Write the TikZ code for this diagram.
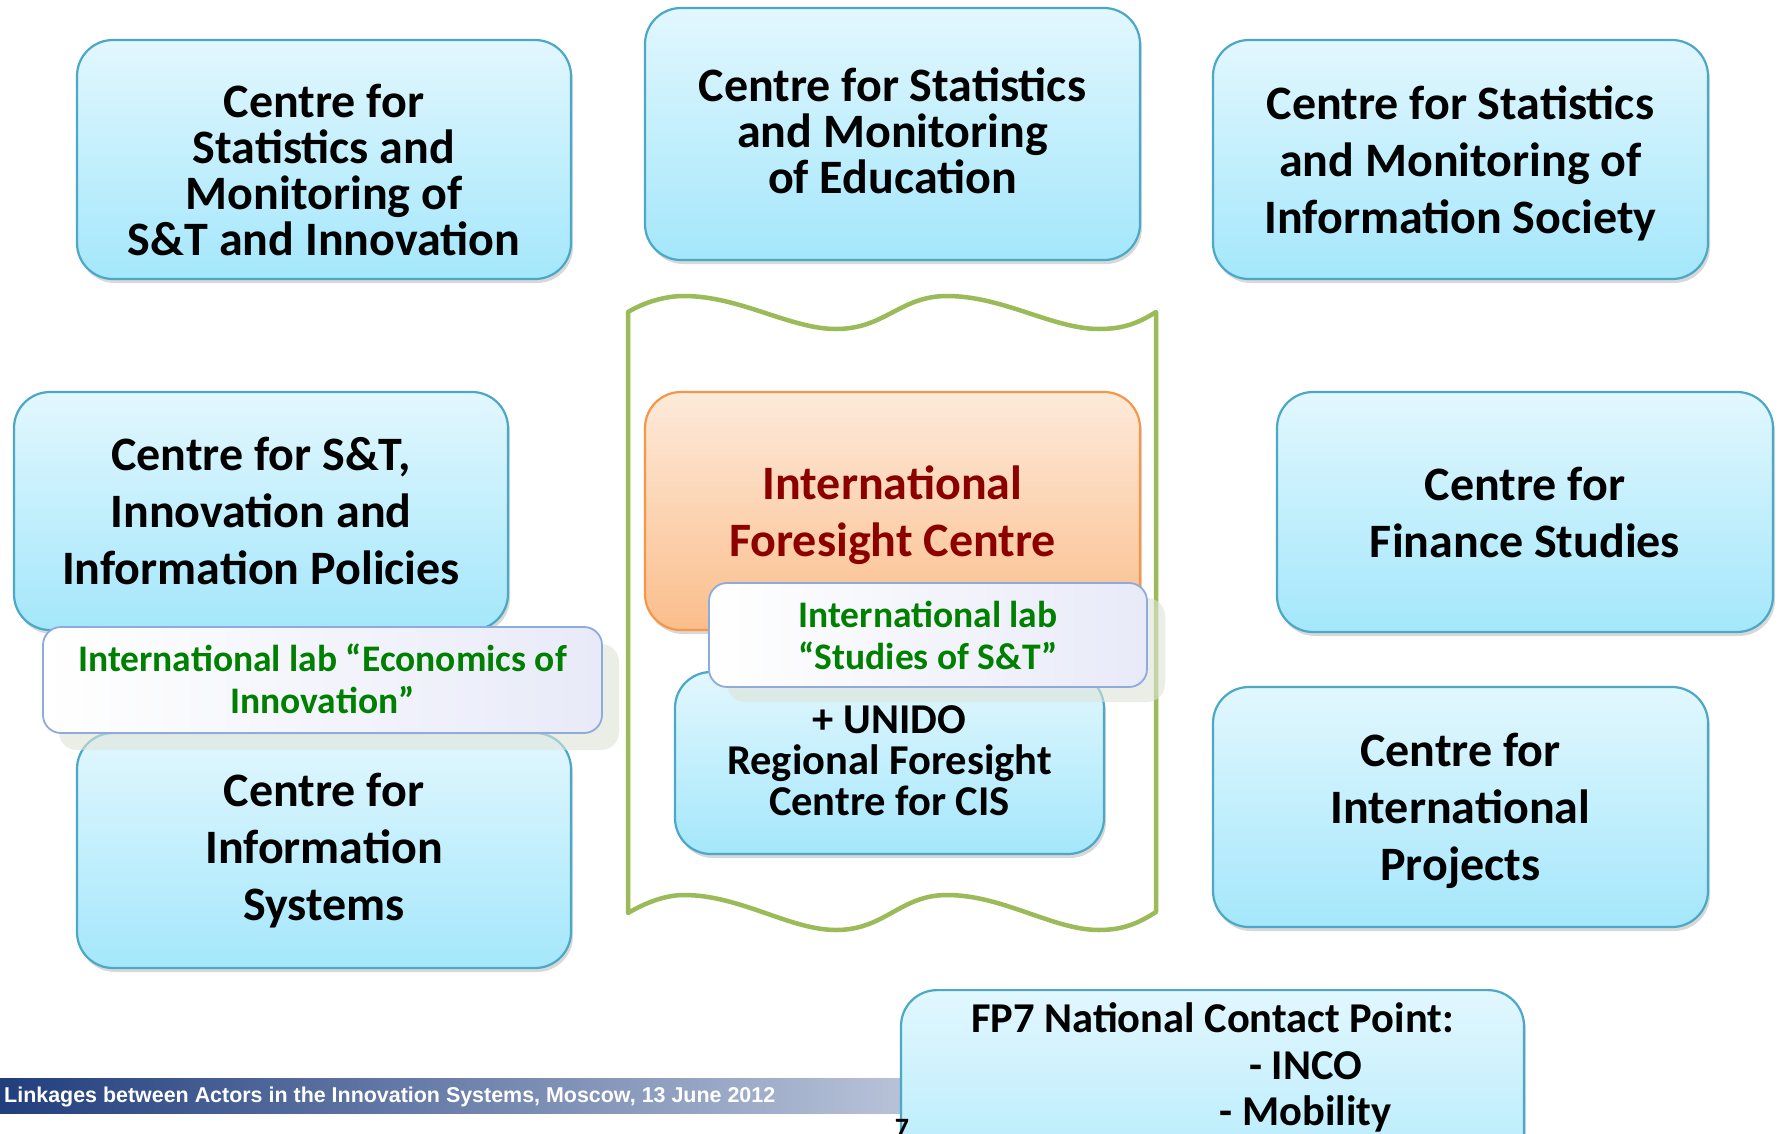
\documentclass[tikz,border=0pt]{standalone}
\usepackage{fontspec}
\setmainfont{Carlito}
\newfontfamily\footfont{Liberation Sans}
\usetikzlibrary{shadows}
\newcommand\nolsk{\lineskiplimit-100pt\relax}
\definecolor{bborder}{RGB}{75,168,198}
\definecolor{btop}{RGB}{226,247,254}
\definecolor{bbot}{RGB}{164,231,251}
\definecolor{otop}{RGB}{253,234,218}
\definecolor{obot}{RGB}{251,190,140}
\definecolor{oborder}{RGB}{247,150,70}
\definecolor{lborder}{RGB}{143,170,220}
\definecolor{lright}{RGB}{232,234,248}
\definecolor{ltext}{RGB}{0,128,0}
\definecolor{ifcred}{RGB}{140,0,0}
\definecolor{wavegreen}{RGB}{155,187,89}
\definecolor{footL}{RGB}{33,62,125}
\definecolor{footR}{RGB}{200,209,226}
\definecolor{labshadow}{RGB}{222,228,215}
\tikzset{
  centrebox/.style={draw=bborder, line width=2.2pt, rounded corners=36pt,
    top color=btop, bottom color=bbot,
    drop shadow={shadow xshift=2pt, shadow yshift=-4pt, opacity=0.3},
    inner sep=0pt},
  ifcbox/.style={centrebox, draw=oborder, top color=otop, bottom color=obot},
  boxtext/.style={align=center, inner sep=0pt,
    font={\bfseries\fontsize{48}{57}\selectfont\nolsk}},
  tighttext/.style={boxtext, font={\bfseries\fontsize{48}{46}\selectfont\nolsk}},
  labbox/.style={draw=lborder, line width=1.8pt, rounded corners=18pt,
    left color=white, right color=lright, inner sep=0pt},
  labtext/.style={align=center, inner sep=0pt, text=ltext,
    font={\bfseries\fontsize{37.5}{42}\selectfont\nolsk}},
  labshade/.style={fill=labshadow, opacity=0.6, rounded corners=18pt},
  wavestyle/.style={draw=wavegreen, line width=4.5pt, fill=white, line join=round},
}
\begin{document}
\begin{tikzpicture}[x=1pt,y=-1pt]
\useasboundingbox (0,0) rectangle (1781,1133);
\clip (0,0) rectangle (1781,1133);
\fill[white] (0,0) rectangle (1781,1133);

% footer bar
\shade[left color=footL, right color=footR] (0,1078) rectangle (1000,1113);
\node[anchor=west, text=white, inner sep=0pt, font={\footfont\bfseries\fontsize{20}{24}\selectfont}] (foot) at (4,1097)
  {\resizebox{771pt}{!}{Linkages between Actors in the Innovation Systems, Moscow, 13 June 2012}};

% top row
\node[centrebox, minimum width=494pt, minimum height=239pt] (stinno) at (324,159.5) {};
\node[tighttext] (stinnotext) at (324,169.5)
  {Centre for\\Statistics and\\Monitoring of\\S\&T and Innovation};
\node[centrebox, minimum width=495pt, minimum height=252pt] (edu) at (892.5,134) {};
\node[tighttext] (edutext) at (892.5,131)
  {Centre for Statistics\\and Monitoring\\of Education};
\node[centrebox, minimum width=495pt, minimum height=239pt] (infsoc) at (1460.5,159.5) {};
\node[boxtext] (infsoctext) at (1460.5,163)
  {Centre for Statistics\\and Monitoring of\\Information Society};

% green wave
\draw[wavestyle] (628,312) .. controls (645,302) and (665,296) .. (684,296)
  .. controls (740,296) and (790,329) .. (836,329)
  .. controls (885,329) and (900,296) .. (947,296)
  .. controls (1003,296) and (1053,329) .. (1099,329)
  .. controls (1125,329) and (1140,322) .. (1156,312)
  -- (1156,912)
  .. controls (1140,922) and (1125,930) .. (1099,930)
  .. controls (1053,930) and (1003,895) .. (947,895)
  .. controls (900,895) and (885,930) .. (836,930)
  .. controls (790,930) and (740,895) .. (684,895)
  .. controls (665,895) and (645,903) .. (628,913) -- cycle;

% left column
\node[centrebox, minimum width=494pt, minimum height=238pt] (policy) at (261,511) {};
\node[boxtext] (policytext) at (261,511)
  {Centre for S\&T,\\Innovation and\\Information Policies};
\node[centrebox, minimum width=494pt, minimum height=235pt] (infsys) at (324,850.5) {};
\node[boxtext] (infsystext) at (324,850.5)
  {Centre for\\Information\\Systems};
\fill[labshade] (59,644) rectangle (619,750);
\node[labbox, minimum width=559pt, minimum height=106pt] (labecon) at (322.5,680) {};
\node[labtext] (labecontext) at (322.5,679)
  {International lab “Economics of\\Innovation”};

% centre
\node[ifcbox, minimum width=495pt, minimum height=238pt] (ifc) at (892.5,511) {};
\node[boxtext, text=ifcred] (ifctext) at (892.5,515.5)
  {International\\Foresight Centre};
\node[centrebox, minimum width=429pt, minimum height=182pt] (unido) at (889.5,763) {};
\node[boxtext, font={\bfseries\fontsize{42.5}{41}\selectfont\nolsk}] (unidotext) at (889.5,761)
  {+ UNIDO\\Regional Foresight\\Centre for CIS};
\fill[labshade] (727,598) rectangle (1165,702);
\node[labbox, minimum width=438pt, minimum height=104pt] (labst) at (928,635) {};
\node[labtext] (labsttext) at (928,635)
  {International lab\\“Studies of S\&T”};

% right column
\node[centrebox, minimum width=496pt, minimum height=240pt] (finance) at (1525,512) {};
\node[boxtext] (financetext) at (1525,512)
  {Centre for\\Finance Studies};
\node[centrebox, minimum width=495pt, minimum height=240pt] (intproj) at (1460.5,807) {};
\node[boxtext] (intprojtext) at (1460.5,811)
  {Centre for\\International\\Projects};

% FP7
\node[centrebox, anchor=north, minimum width=623pt, minimum height=260pt] (fp7) at (1212.5,989) {};
\node[anchor=north, align=center, inner sep=0pt,
  font={\bfseries\fontsize{42.5}{46.5}\selectfont\nolsk}] (fp7text) at (1212.5,1002.5)
  {FP7 National Contact Point:\\\hspace*{186pt}- INCO\\\hspace*{186pt}- Mobility};

\node[anchor=base, inner sep=0pt, font={\bfseries\fontsize{28}{30}\selectfont}] (pagenum) at (902,1137) {7};
\end{tikzpicture}
\end{document}
